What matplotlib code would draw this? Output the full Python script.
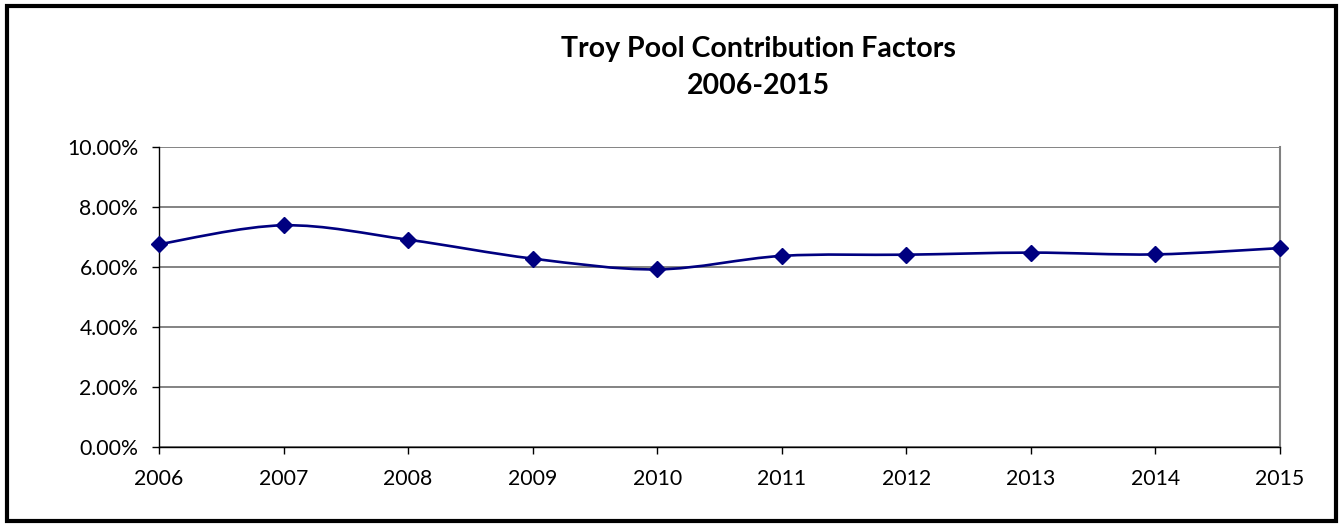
import matplotlib
matplotlib.use("Agg")
import matplotlib.pyplot as plt
import numpy as np
from matplotlib.path import Path
from matplotlib.patches import PathPatch, Rectangle
from matplotlib.ticker import FuncFormatter

years = [2006, 2007, 2008, 2009, 2010, 2011, 2012, 2013, 2014, 2015]
factors = [6.76, 7.39, 6.91, 6.28, 5.92, 6.37, 6.41, 6.48, 6.42, 6.63]  # percent
yticks = [0, 2, 4, 6, 8, 10]
title_lines = ["Troy Pool Contribution Factors", "2006-2015"]

plt.rcParams['font.family'] = ['Lato', 'DejaVu Sans']

W, H, DPI = 1343, 527, 100
fig = plt.figure(figsize=(W / DPI, H / DPI), dpi=DPI)
ax = fig.add_axes([159 / W, 1 - 447 / H, (1280 - 159) / W, (447 - 147) / H])

x = np.arange(len(years))
y = np.array(factors)

# smooth line (Excel style cardinal spline via cubic Bezier)
verts = [(x[0], y[0])]
codes = [Path.MOVETO]
n = len(x)
for i in range(n - 1):
    p0 = np.array([x[max(i - 1, 0)], y[max(i - 1, 0)]])
    p1 = np.array([x[i], y[i]])
    p2 = np.array([x[i + 1], y[i + 1]])
    p3 = np.array([x[min(i + 2, n - 1)], y[min(i + 2, n - 1)]])
    c1 = p1 + (p2 - p0) / 6.0
    c2 = p2 - (p3 - p1) / 6.0
    verts += [tuple(c1), tuple(c2), tuple(p2)]
    codes += [Path.CURVE4, Path.CURVE4, Path.CURVE4]
ax.add_patch(PathPatch(Path(verts, codes), facecolor='none', edgecolor='#000080',
                       lw=1.9, zorder=3, clip_on=False))
ax.plot(x, y, linestyle='none', marker='D', markersize=7.8, color='#000080',
        zorder=4, clip_on=False)

ax.set_xlim(0, n - 1)
ax.set_ylim(0, 10)
ax.set_xticks(x)
ax.set_xticklabels([str(v) for v in years])
ax.set_yticks(yticks)
ax.yaxis.set_major_formatter(FuncFormatter(lambda v, p: f"{v:.2f}%"))
ax.grid(axis='y', color='#7a7a7a', lw=1.3, zorder=1)
ax.set_axisbelow(True)
for s in ['left', 'bottom']:
    ax.spines[s].set_color('#000000')
    ax.spines[s].set_linewidth(1.0)
ax.spines['right'].set_color('#808080')
ax.spines['right'].set_linewidth(1.5)
ax.spines['top'].set_visible(False)
ax.tick_params(axis='both', direction='out', length=5, width=1.0, color='#000000',
               labelsize=15.3, labelcolor='#000000')
ax.tick_params(axis='y', pad=10)
ax.tick_params(axis='x', pad=11)

fig.text(758 / W, 1 - 56.7 / H, title_lines[0], ha='center', va='baseline',
         fontsize=20.5, fontweight='bold')
fig.text(758 / W, 1 - 94.5 / H, title_lines[1], ha='center', va='baseline',
         fontsize=20.5, fontweight='bold')

fig.patches.append(Rectangle((7 / W, 6 / H), (1336 - 7) / W, (521 - 6) / H,
                             transform=fig.transFigure, fill=False,
                             edgecolor='black', lw=3.0))

fig.savefig("out.png", dpi=DPI)
